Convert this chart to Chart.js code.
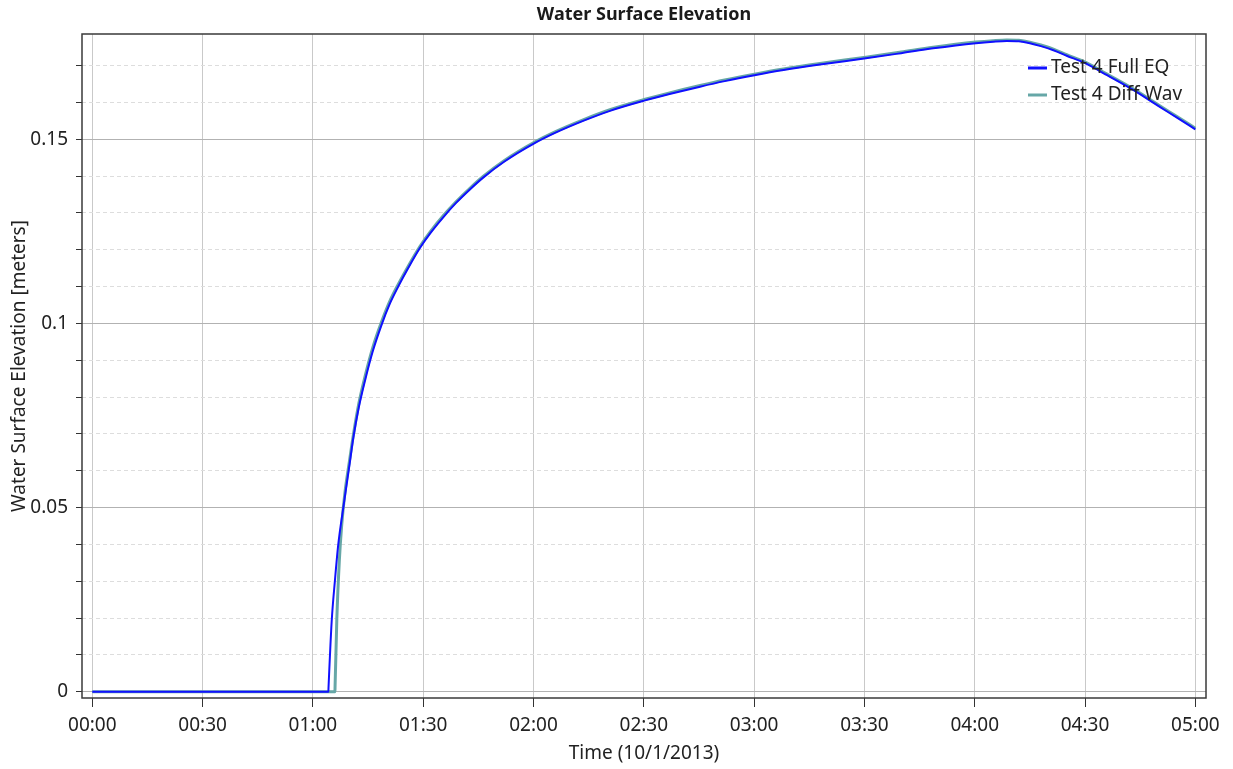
<!DOCTYPE html>
<html>
<head>
<meta charset="utf-8">
<script src="https://cdn.jsdelivr.net/npm/chart.js@4.4.1/dist/chart.umd.min.js"></script>
<style>
  html, body { margin: 0; padding: 0; background: #fff; }
  #wrap { width: 1233px; height: 769px; }
</style>
</head>
<body>
<div id="wrap"><canvas id="chart"></canvas></div>
<script>
// time in minutes after 00:00 on 10/1/2013
const fullEqTime = [0, 64.2, 64.25, 65.1, 66.0, 66.9, 68.3, 70.1, 71.0, 72.5, 74.2, 76.3, 78.7, 80.9, 83.2, 86.0, 89.1, 92.0, 95.5, 99.0, 102.7, 106.3, 112.0, 120.2, 126.0, 133.5, 141.0, 150.1, 157.0, 165.3, 172.0, 180.1, 188.0, 197.9, 210.4, 220.0, 228.7, 240.3, 245.0, 248.7, 252.0, 255.0, 258.0, 261.4, 265.0, 270.2, 276.0, 283.1, 290.0, 295.0, 300.0];
const fullEqWse = [0, 0, 0.0012, 0.0190, 0.0303, 0.0400, 0.0502, 0.0627, 0.0690, 0.0773, 0.0846, 0.0925, 0.0997, 0.1053, 0.1100, 0.1152, 0.1205, 0.1246, 0.1289, 0.1328, 0.1364, 0.1396, 0.1439, 0.1489, 0.1518, 0.1550, 0.1578, 0.1605, 0.1623, 0.1643, 0.1658, 0.1674, 0.1688, 0.1703, 0.1720, 0.1734, 0.1747, 0.1761, 0.1765, 0.1767, 0.1766, 0.1761, 0.1753, 0.1742, 0.1727, 0.1706, 0.1674, 0.1634, 0.1590, 0.1559, 0.1527];

const diffWavTime = [0, 66.0, 66.03, 66.5, 67.2, 67.8, 68.7, 70.0, 71.0, 72.5, 74.2, 76.3, 78.7, 80.9, 83.2, 86.0, 89.1, 92.0, 95.5, 99.0, 102.7, 106.3, 112.0, 120.2, 126.0, 133.5, 141.0, 150.1, 157.0, 165.3, 172.0, 180.1, 188.0, 197.9, 210.4, 220.0, 228.7, 240.3, 245.0, 248.7, 252.0, 255.0, 258.0, 261.4, 265.0, 270.2, 276.0, 283.1, 290.0, 295.0, 300.0];
const diffWavWse = [0, 0, 0.0015, 0.0195, 0.0358, 0.0448, 0.0540, 0.0630, 0.0697, 0.0783, 0.0857, 0.0935, 0.1005, 0.1060, 0.1106, 0.1157, 0.1209, 0.1250, 0.1293, 0.1331, 0.1367, 0.1399, 0.1442, 0.1492, 0.1521, 0.1553, 0.1581, 0.1608, 0.1626, 0.1646, 0.1661, 0.1677, 0.1691, 0.1706, 0.1723, 0.1737, 0.1750, 0.1764, 0.1768, 0.1770, 0.1769, 0.1764, 0.1756, 0.1745, 0.1730, 0.1709, 0.1677, 0.1637, 0.1593, 0.1562, 0.1530];

const seriesNames = ['Test 4 Full EQ', 'Test 4 Diff Wav'];

const xTicks = [0, 30, 60, 90, 120, 150, 180, 210, 240, 270, 300];
const xTickLabels = ['00:00', '00:30', '01:00', '01:30', '02:00', '02:30', '03:00', '03:30', '04:00', '04:30', '05:00'];
const yTicks = [0, 0.01, 0.02, 0.03, 0.04, 0.05, 0.06, 0.07, 0.08, 0.09, 0.1, 0.11, 0.12, 0.13, 0.14, 0.15, 0.16, 0.17];
const yMajor = [0, 0.05, 0.1, 0.15];
const yMajorLabels = ['0', '0.05', '0.1', '0.15'];

const FONT = '"Noto Sans", "Open Sans", sans-serif';
const TEXT = '#222';

const toPoints = (ts, vs) => ts.map((t, i) => ({ x: t, y: vs[i] }));
const majorIdx = v => yMajor.findIndex(m => Math.abs(m - v) < 1e-9);

// box around the plot + in-plot legend
const framePlugin = {
    id: 'frame',
    afterDatasetsDraw(chart) {
        const { ctx, chartArea: a } = chart;
        // legend, top-right inside the plot
        ctx.save();
        ctx.font = '19px ' + FONT;
        ctx.textBaseline = 'middle';
        ctx.textAlign = 'left';
        chart.data.datasets.forEach((ds, i) => {
            const y = a.top + 34 + i * 27;
            ctx.strokeStyle = ds.borderColor;
            ctx.lineWidth = 3;
            ctx.beginPath();
            ctx.moveTo(a.right - 178, y);
            ctx.lineTo(a.right - 159, y);
            ctx.stroke();
            ctx.fillStyle = TEXT;
            ctx.fillText(ds.label, a.right - 155, y);
        });
        ctx.strokeStyle = '#3a3a3a';
        ctx.lineWidth = 1.5;
        ctx.strokeRect(a.left, a.top, a.right - a.left, a.bottom - a.top);
        ctx.restore();
    }
};

new Chart(document.getElementById('chart'), {
    type: 'line',
    data: {
        datasets: [
            {
                label: seriesNames[0],
                data: toPoints(fullEqTime, fullEqWse),
                borderColor: '#1010ff',
                borderWidth: 2,
                pointRadius: 0,
                cubicInterpolationMode: 'monotone'
            },
            {
                label: seriesNames[1],
                data: toPoints(diffWavTime, diffWavWse),
                borderColor: '#66a7a7',
                borderWidth: 3,
                pointRadius: 0,
                cubicInterpolationMode: 'monotone'
            }
        ]
    },
    plugins: [framePlugin],
    options: {
        responsive: true, maintainAspectRatio: false, animation: false,
        layout: { padding: { left: 0, right: 27, top: 0, bottom: 0 } },
        plugins: {
            legend: { display: false },
            tooltip: { enabled: false },
            title: {
                display: true, fullSize: false, text: 'Water Surface Elevation', color: '#1a1a1a',
                font: { family: FONT, size: 18, weight: 'bold' },
                padding: { top: 4, bottom: 8.4 }
            }
        },
        scales: {
            x: {
                type: 'linear', min: -2.8, max: 302.9,
                afterBuildTicks: s => { s.ticks = xTicks.map(v => ({ value: v })); },
                afterFit: s => { s.height = 71; },
                ticks: {
                    color: TEXT, padding: 7, maxRotation: 0, autoSkip: false,
                    font: { family: FONT, size: 19 },
                    callback: (v) => xTickLabels[xTicks.indexOf(v)]
                },
                grid: { color: '#c9c9c9', lineWidth: 1, tickColor: '#333', tickLength: 9 },
                border: { display: false },
                title: {
                    display: true, text: 'Time (10/1/2013)', color: TEXT,
                    font: { family: FONT, size: 19 }, padding: { top: 0, bottom: 4 }
                }
            },
            y: {
                type: 'linear', min: -0.0017, max: 0.1786,
                afterBuildTicks: s => { s.ticks = yTicks.map(v => ({ value: v })); },
                afterFit: s => { s.width = 82; },
                ticks: {
                    color: TEXT, padding: 8, autoSkip: false,
                    font: { family: FONT, size: 19 },
                    callback: (v) => { const k = majorIdx(v); return k >= 0 ? yMajorLabels[k] : ''; }
                },
                grid: {
                    color: c => (c.tick && majorIdx(c.tick.value) >= 0) ? '#b2b2b2' : '#dddddd',
                    lineWidth: 1, tickColor: '#333', tickLength: 6
                },
                border: {
                    display: false,
                    dash: c => (c.tick && majorIdx(c.tick.value) < 0) ? [4, 3] : []
                },
                title: {
                    display: true, text: 'Water Surface Elevation [meters]', color: TEXT,
                    font: { family: FONT, size: 19 }, padding: { top: 8.6, bottom: 0 }
                }
            }
        }
    }
});
</script>
</body>
</html>
